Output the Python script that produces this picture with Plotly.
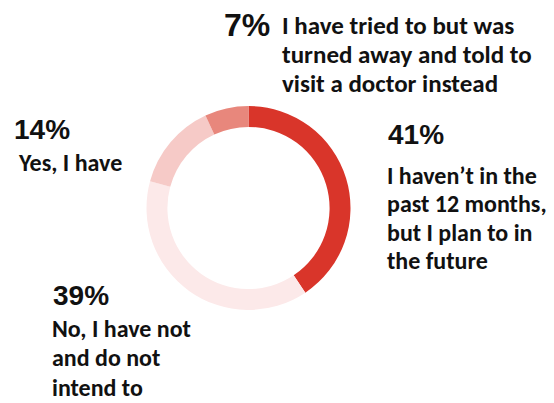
import plotly.graph_objects as go

# Survey answers, in clockwise order starting at 12 o'clock
answers = [
    "I haven\u2019t in the past 12 months, but I plan to in the future",
    "No, I have not and do not intend to",
    "Yes, I have",
    "I have tried to but was turned away and told to visit a doctor instead",
]
shares = [41, 39, 14, 7]
slice_colors = ["#D9352A", "#FCE9E9", "#F6CAC7", "#E8877C"]

# Wrapped label text for each answer
label_lines = [
    ["I haven\u2019t in the", "past 12 months,", "but I plan to in", "the future"],
    ["No, I have not", "and do not", "intend to"],
    ["Yes, I have"],
    ["I have tried to but was", "turned away and told to", "visit a doctor instead"],
]

W, H = 554, 403
LABEL_FONT = "Carlito, Lato, Liberation Sans, sans-serif"
PCT_FONT = "Liberation Sans, Arial, sans-serif"

fig = go.Figure(
    go.Pie(
        labels=answers,
        values=shares,
        hole=0.795,
        sort=False,
        direction="clockwise",
        rotation=0,
        marker=dict(colors=slice_colors, line=dict(width=0)),
        textinfo="none",
        hoverinfo="label+percent",
        showlegend=False,
        domain=dict(x=[146.5 / W, 350.5 / W], y=[(H - 310) / H, (H - 106) / H]),
    )
)

# Placement of each percentage and its wrapped description (pixels from top-left)
placements = [
    dict(px=386, py=134, psize=28, tx=385, ty=175, step=28.5, tsize=24),
    dict(px=51, py=295, psize=28, tx=50, ty=328, step=29.5, tsize=24),
    dict(px=12, py=130, psize=28, tx=16, ty=163, step=29, tsize=24),
    dict(px=222, py=25, psize=32, tx=280, ty=25, step=29.5, tsize=25),
]

annotations = []
for share, lines, pl in zip(shares, label_lines, placements):
    annotations.append(dict(
        x=pl["px"] / W, y=1 - pl["py"] / H, xref="paper", yref="paper",
        xanchor="left", yanchor="middle", showarrow=False,
        text=f"<b>{share}%</b>",
        font=dict(family=PCT_FONT, size=pl["psize"], color="#111111"),
    ))
    for i, line in enumerate(lines):
        annotations.append(dict(
            x=pl["tx"] / W, y=1 - (pl["ty"] + i * pl["step"]) / H,
            xref="paper", yref="paper",
            xanchor="left", yanchor="middle", showarrow=False,
            text=f"<b>{line}</b>",
            font=dict(family=LABEL_FONT, size=pl["tsize"], color="#111111"),
        ))

fig.update_layout(
    width=W, height=H,
    margin=dict(l=0, r=0, t=0, b=0),
    paper_bgcolor="white", plot_bgcolor="white",
    annotations=annotations,
)

fig.write_html("out.html")
